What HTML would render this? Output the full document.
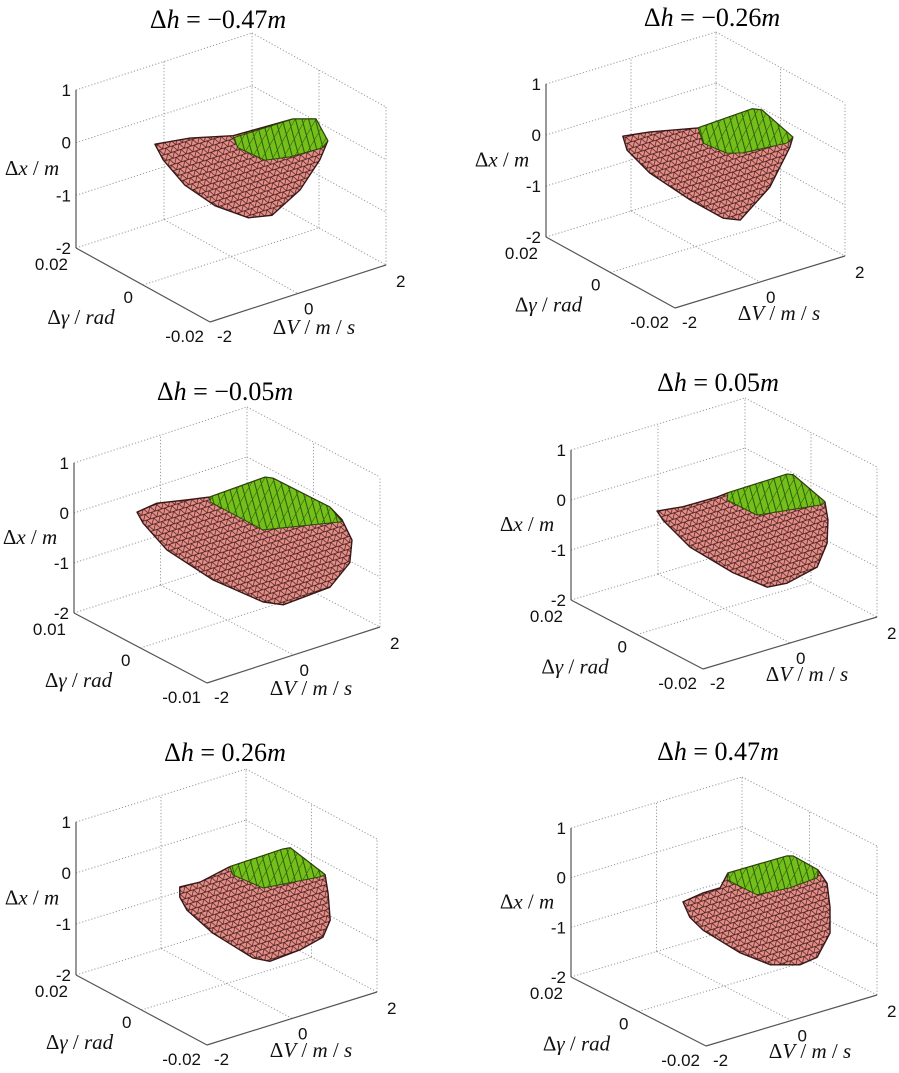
<!DOCTYPE html>
<html><head><meta charset="utf-8"><style>
html,body{margin:0;padding:0;background:#fff;}
svg{display:block;}
.tick{font-family:"Liberation Sans",Arial,sans-serif;font-size:17px;fill:#111;}
.lab{font-family:"Liberation Serif","Times New Roman",serif;font-size:21px;fill:#111;}
.ttl{font-family:"Liberation Serif","Times New Roman",serif;font-size:26px;fill:#000;}
</style></head><body>
<svg id="fig" width="899" height="1073" viewBox="0 0 899 1073" xmlns="http://www.w3.org/2000/svg">
<defs>
<pattern id="mesh" width="7" height="6" patternUnits="userSpaceOnUse" patternTransform="rotate(-18)">
<path d="M0 0L7 0M0 0L3.5 6M7 0L3.5 6M0 6L7 6" stroke="#2a0c0c" stroke-width="0.7" stroke-opacity="0.9" fill="none"/>
</pattern>
<pattern id="stripes" width="9" height="9" patternUnits="userSpaceOnUse" patternTransform="rotate(30)">
<path d="M0 0L0 9M0 0L9 9" stroke="#1d3a06" stroke-width="0.9" stroke-opacity="0.9" fill="none"/>
</pattern>
</defs>
</svg>
<script>
// ---- data (Δh values, tick labels, hull outlines at Δγ=0 in (ΔV, Δx) data units) ----
const hValues = ["−0.47", "−0.26", "−0.05", "0.05", "0.26", "0.47"];
const gammaMax = [0.02, 0.02, 0.01, 0.02, 0.02, 0.02];
const zTicks = [-2, -1, 0, 1];
const vTicks = [-2, 0, 2];

const p1OutlineV = [-1.73,-0.93,0.05,1.41,1.93,2.20,2.02,1.57,0.93,0.39,-0.36,-1.05,-1.54];
const p1OutlineZ = [0.60,0.50,0.28,0.23,0.09,-0.40,-0.71,-1.16,-1.47,-1.37,-0.94,-0.36,0.25];
const p1GreenV = [0.05,1.41,1.93,2.20,2.07,1.34,0.77,0.16];
const p1GreenZ = [0.24,0.23,0.09,-0.40,-0.50,-0.47,-0.38,0.02];

const p2OutlineV = [-1.71,-1.07,0.06,1.33,1.56,2.29,2.22,1.75,1.05,0.65,-0.13,-1.07,-1.61];
const p2OutlineZ = [0.60,0.52,0.31,0.36,0.28,-0.44,-0.62,-1.28,-1.75,-1.61,-1.05,-0.29,0.30];
const p2GreenV = [0.06,1.33,1.56,2.29,2.15,1.12,0.74,0.18];
const p2GreenZ = [0.31,0.36,0.28,-0.44,-0.52,-0.45,-0.36,-0.02];

const p3OutlineV = [-2.08,-1.62,-0.92,-0.39,0.88,1.06,2.38,2.66,2.89,2.84,2.38,1.30,0.83,-0.32,-1.39,-1.94];
const p3OutlineZ = [0.74,0.79,0.66,0.57,0.61,0.54,-0.41,-0.74,-1.21,-1.65,-2.01,-2.06,-1.87,-1.11,-0.21,0.48];
const p3GreenV = [-0.39,0.88,1.06,2.38,2.66,0.83,-0.39];
const p3GreenZ = [0.57,0.61,0.54,-0.41,-0.78,-0.43,0.47];

const p4OutlineV = [-1.54,-0.94,-0.16,0.09,1.45,1.59,2.32,2.39,2.37,2.14,1.45,0.99,0.21,-0.78,-1.40];
const p4OutlineZ = [0.35,0.28,0.27,0.29,0.31,0.26,-0.47,-0.85,-1.31,-1.73,-1.87,-1.83,-1.34,-0.57,0.13];
const p4GreenV = [0.09,1.45,1.59,2.32,2.25,0.76,0.07];
const p4GreenZ = [0.29,0.31,0.26,-0.47,-0.51,-0.33,0.15];

const p5OutlineV = [-1.10,-0.62,0.08,1.33,1.50,2.32,2.39,2.44,2.27,1.73,1.02,0.62,-0.32,-0.93,-1.10];
const p5OutlineZ = [0.18,0.15,0.27,0.29,0.27,-0.47,-0.85,-1.39,-1.68,-1.79,-1.83,-1.66,-0.93,-0.32,-0.02];
const p5GreenV = [0.08,1.33,1.50,2.32,2.20,0.86,0.15];
const p5GreenZ = [0.27,0.29,0.27,-0.47,-0.48,-0.35,0.09];

const p6OutlineV = [-0.96,-0.49,-0.09,0.09,1.47,1.62,2.20,2.41,2.48,2.48,2.18,1.78,1.08,0.38,-0.49,-0.80];
const p6OutlineZ = [-0.06,0.00,0.00,0.25,0.24,0.20,-0.23,-0.55,-1.05,-1.57,-1.98,-2.03,-1.85,-1.43,-0.75,-0.41];
const p6GreenV = [0.09,1.47,1.62,2.20,2.18,1.54,0.77,0.07];
const p6GreenZ = [0.25,0.24,0.20,-0.23,-0.38,-0.42,-0.36,0.12];

const outlinesV = [p1OutlineV,p2OutlineV,p3OutlineV,p4OutlineV,p5OutlineV,p6OutlineV];
const outlinesZ = [p1OutlineZ,p2OutlineZ,p3OutlineZ,p4OutlineZ,p5OutlineZ,p6OutlineZ];
const greensV = [p1GreenV,p2GreenV,p3GreenV,p4GreenV,p5GreenV,p6GreenV];
const greensZ = [p1GreenZ,p2GreenZ,p3GreenZ,p4GreenZ,p5GreenZ,p6GreenZ];

// ---- layout (pixel geometry of each 3D box) ----
const boxes = [
 {ox:76, oy:248, d1x:134,d1y:74, d2x:176,d2y:-57, h:158, tx:218, ty:28},
 {ox:546,oy:237, d1x:129,d1y:71, d2x:170,d2y:-52, h:153, tx:712, ty:26},
 {ox:74, oy:613, d1x:133,d1y:70, d2x:173,d2y:-56, h:150, tx:225, ty:400},
 {ox:571,oy:600, d1x:132,d1y:69, d2x:174,d2y:-52, h:150, tx:718, ty:391},
 {ox:76, oy:975, d1x:131,d1y:70, d2x:170,d2y:-53, h:153, tx:225, ty:761},
 {ox:571,oy:977, d1x:135,d1y:69, d2x:171,d2y:-51, h:149, tx:718, ty:760}
];

const NS = "http://www.w3.org/2000/svg";
const svg = document.getElementById("fig");
function mk(tag, attrs, parent){const e=document.createElementNS(NS,tag);for(const k in attrs)e.setAttribute(k,attrs[k]);(parent||svg).appendChild(e);return e;}

function proj(b, gm, V, g, z){
  const gf=(gm-g)/(2*gm), vf=(V+2)/4, zf=(z+2)/3;
  return [b.ox+b.d1x*gf+b.d2x*vf, b.oy+b.d1y*gf+b.d2y*vf-b.h*zf];
}
function line(g, p, q, style, name){
  const l=mk("line",{x1:p[0],y1:p[1],x2:q[0],y2:q[1]},g);
  for(const k in style)l.setAttribute(k,style[k]);
  
  
  return l;
}
const dot={stroke:"#9a9a9a","stroke-width":1,"stroke-dasharray":"1.2,2"};
const solid={stroke:"#555","stroke-width":1.2};

boxes.forEach((b,i)=>{
  const gm=gammaMax[i];
  const g=mk("g",{});
  
  
  const P=(V,gg,z)=>proj(b,gm,V,gg,z);
  zTicks.forEach(z=>{
    line(g,P(-2,gm,z),P(2,gm,z),dot,'left-wall-grid');
    line(g,P(2,gm,z),P(2,-gm,z),dot,'back-wall-grid');
  });
  line(g,P(0,gm,-2),P(0,gm,1),dot,'left-wall-grid');
  line(g,P(2,gm,-2),P(2,gm,1),dot,'back-corner-edge');
  line(g,P(2,0,-2),P(2,0,1),dot,'back-wall-grid');
  line(g,P(2,-gm,-2),P(2,-gm,1),dot,'right-edge');
  line(g,P(-2,0,-2),P(2,0,-2),dot,'floor-grid');
  line(g,P(0,gm,-2),P(0,-gm,-2),dot,'floor-grid');
  line(g,P(-2,gm,-2),P(-2,gm,1),solid,'x-axis-line');
  line(g,P(-2,gm,-2),P(-2,-gm,-2),solid,'gamma-axis-line');
  line(g,P(-2,-gm,-2),P(2,-gm,-2),solid,'v-axis-line');
  const pts=outlinesV[i].map((v,k)=>P(v,0,outlinesZ[i][k]).join(",")).join(" ");
  const body=mk("polygon",{points:pts,fill:"#e68e88",stroke:"#3a1a1a","stroke-width":1.4,"stroke-linejoin":"round"},g);
  
  
  const meshP=mk("polygon",{points:pts,fill:"url(#mesh)"},g);
  
  
  const gp=greensV[i].map((v,k)=>P(v,0,greensZ[i][k]).join(",")).join(" ");
  const gr=mk("polygon",{points:gp,fill:"#74c01a",stroke:"#2b4a08","stroke-width":1,"stroke-linejoin":"round"},g);
  
  
  const gs=mk("polygon",{points:gp,fill:"url(#stripes)"},g);
  
  
  zTicks.forEach(z=>{
    const p=P(-2,gm,z);
    const t=mk("text",{x:p[0]-5,y:p[1]+6,"text-anchor":"end",class:"tick"},g);
    t.textContent=String(z);
    
    
  });
  const gT=[[gm,-8,22,"end"],[0,-10,18,"end"],[-gm,-6,20,"end"]];
  gT.forEach(a=>{
    const p=P(-2,a[0],-2);
    const t=mk("text",{x:p[0]+a[1],y:p[1]+a[2],"text-anchor":a[3],class:"tick"},g);
    t.textContent=a[0]===0?"0":(a[0]>0?String(a[0]):"-"+String(-a[0]));
    
    
  });
  vTicks.forEach((v,k)=>{
    const p=P(v,-gm,-2);
    const off=[[7,20],[6,21],[10,22]][k];
    const t=mk("text",{x:p[0]+off[0],y:p[1]+off[1],"text-anchor":"start",class:"tick"},g);
    t.textContent=String(v);
    
    
  });
  const o=P(-2,gm,-2), m=P(-2,0,-2), f=P(-2,-gm,-2);
  const zl=P(-2,gm,-0.5);
  const xl=mk("text",{x:o[0]-44,y:zl[1]+6,"text-anchor":"middle",class:"lab"},g);
  xl.innerHTML='Δ<tspan font-style="italic">x</tspan> / <tspan font-style="italic">m</tspan>';
  
  
  const gl=mk("text",{x:m[0]-62,y:m[1]+39,"text-anchor":"middle",class:"lab"},g);
  gl.innerHTML='Δ<tspan font-style="italic">γ</tspan> / <tspan font-style="italic">rad</tspan>';
  
  
  const vl=mk("text",{x:f[0]+104,y:f[1]+12,"text-anchor":"middle",class:"lab"},g);
  vl.innerHTML='Δ<tspan font-style="italic">V</tspan> / <tspan font-style="italic">m</tspan> / <tspan font-style="italic">s</tspan>';
  
  
  const tt=mk("text",{x:b.tx,y:b.ty,"text-anchor":"middle",class:"ttl"},g);
  tt.innerHTML='Δ<tspan font-style="italic">h</tspan> = '+hValues[i]+'<tspan font-style="italic">m</tspan>';
  
  
});
</script>
</body></html>
